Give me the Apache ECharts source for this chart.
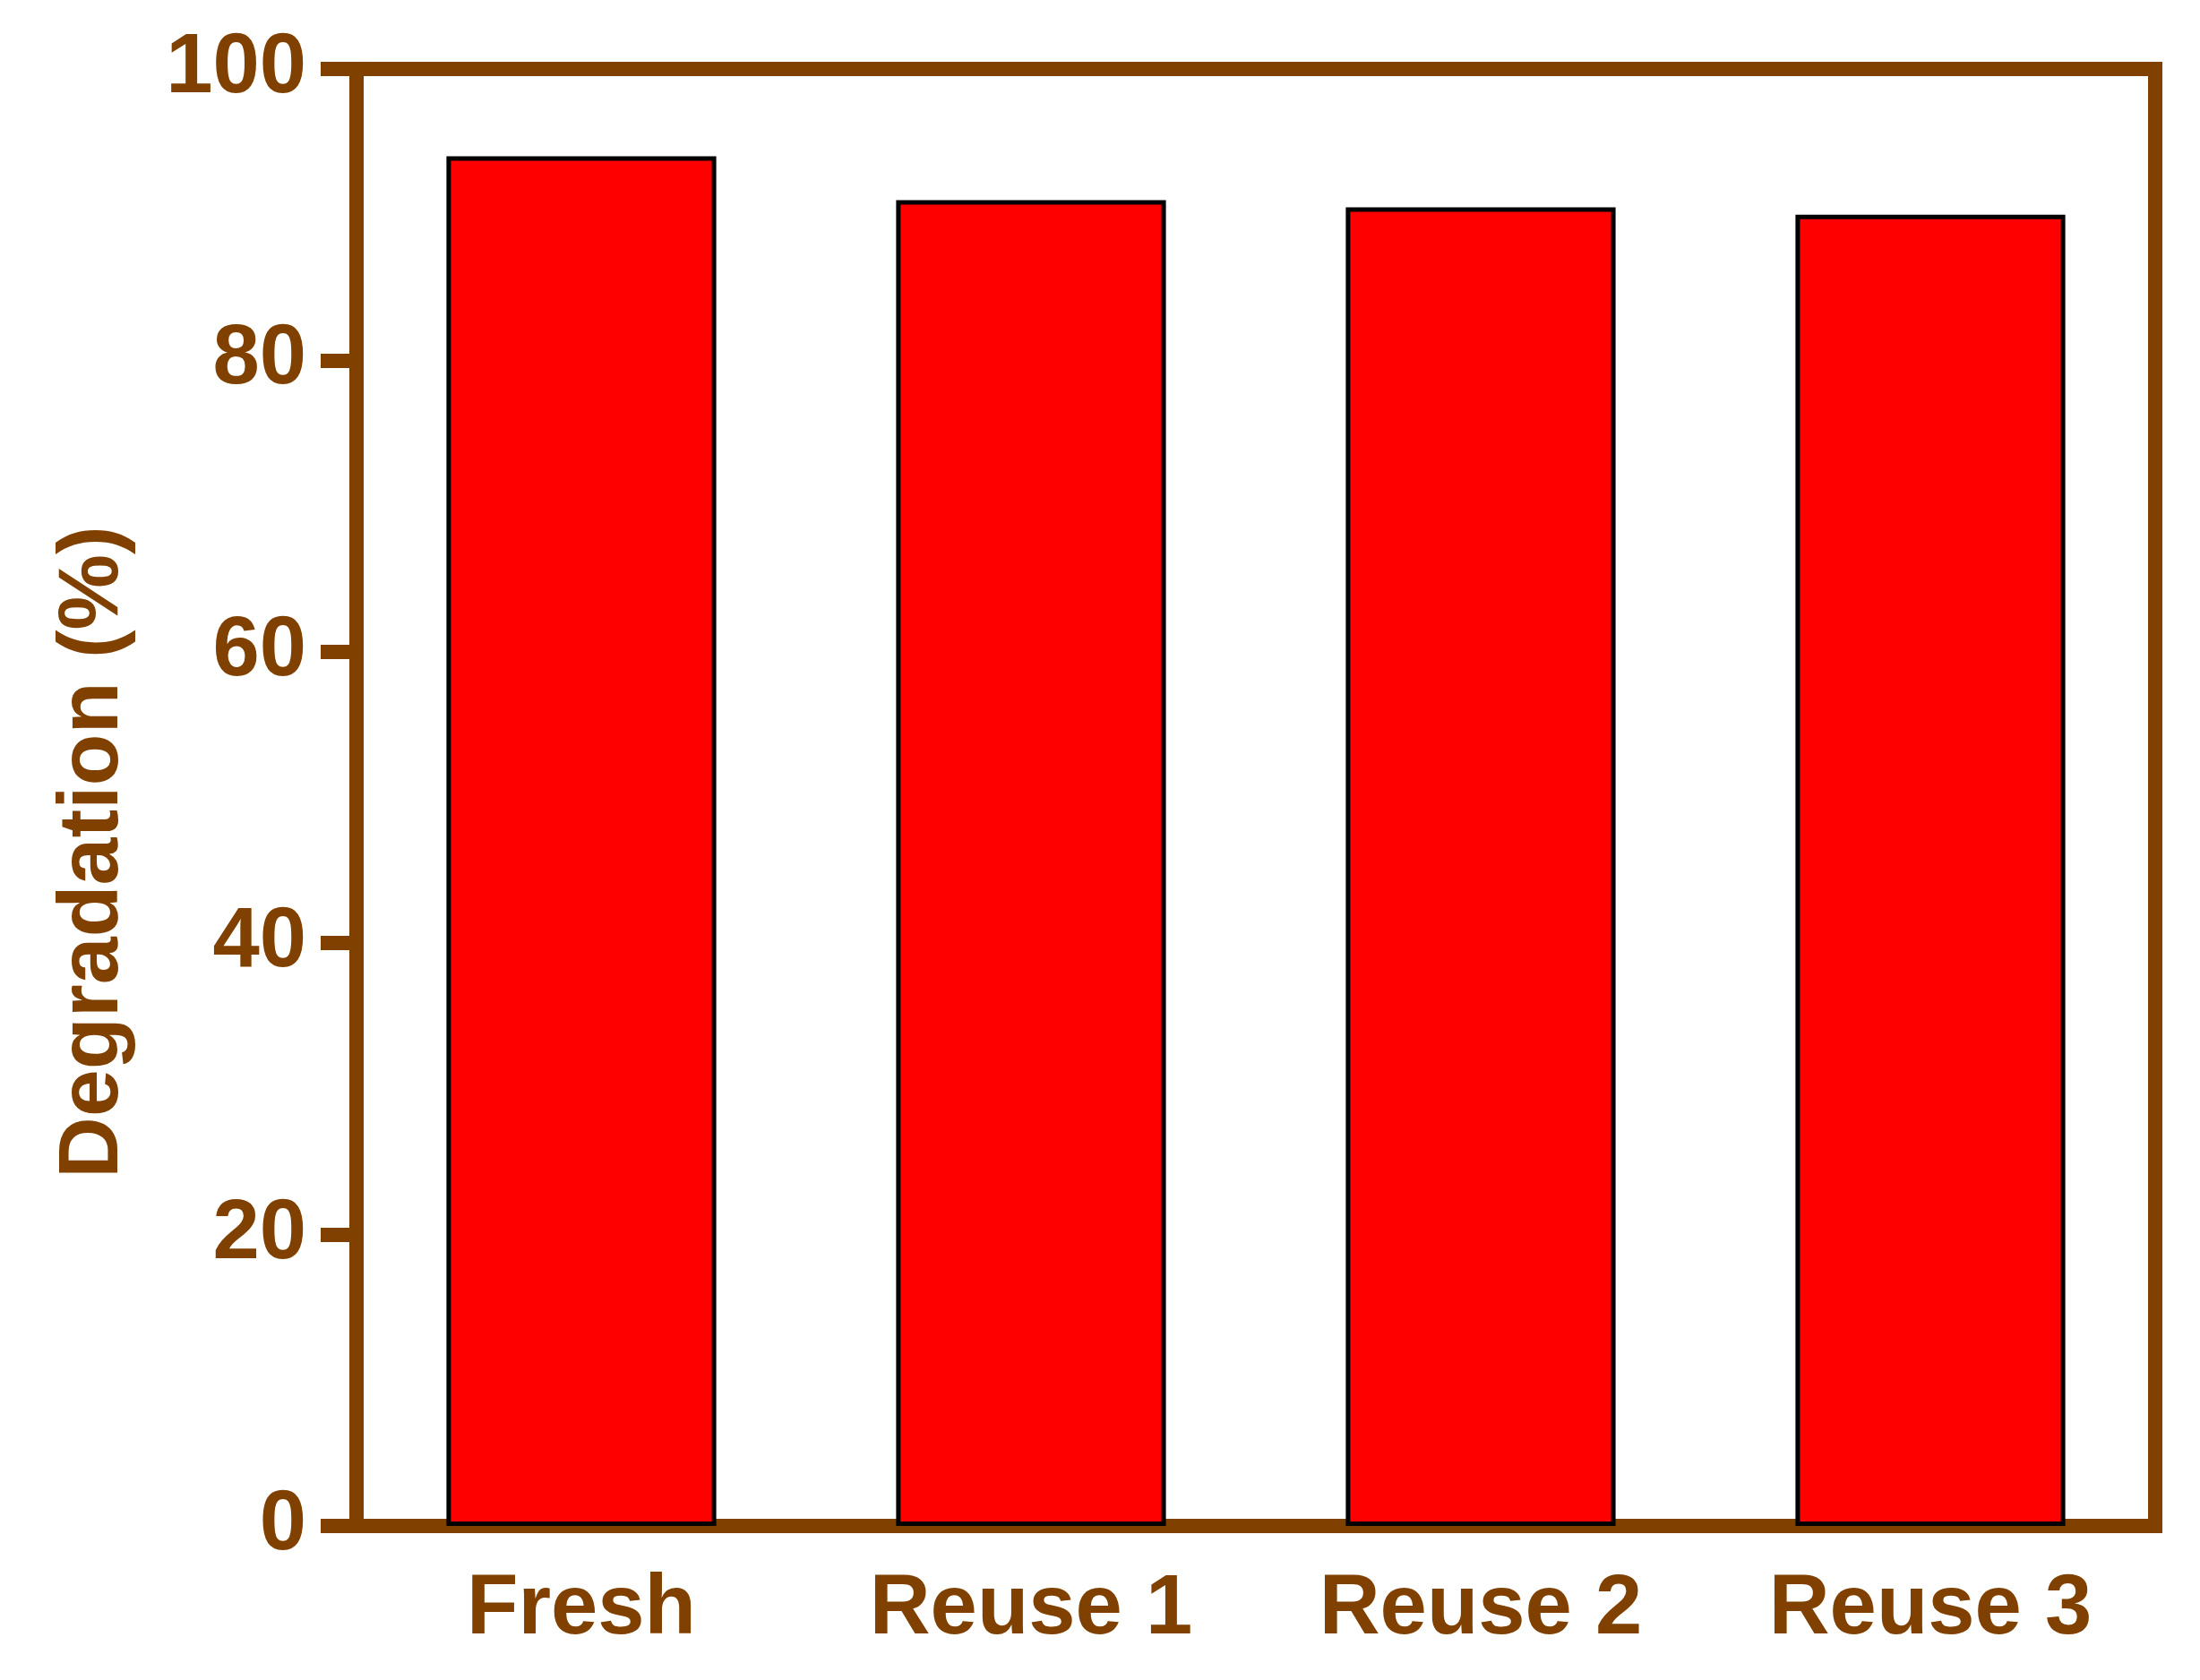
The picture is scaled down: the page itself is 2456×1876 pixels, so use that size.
<!DOCTYPE html>
<html>
<head>
<meta charset="utf-8">
<script src="https://cdn.jsdelivr.net/npm/echarts@6/dist/echarts.min.js"></script>
<style>
html,body{margin:0;padding:0;background:#fff;}
#chart{width:2456px;height:1876px;}
</style>
</head>
<body>
<div id="chart"></div>
<script>
var categories = ['Fresh', 'Reuse 1', 'Reuse 2', 'Reuse 3'];
var degradation = [94.0, 91.0, 90.5, 90.0];
var yTicks = [0, 20, 40, 60, 80, 100];
var yTitle = 'Degradation (%)';

var brown = '#804000';
var font = '"Liberation Sans", Arial, sans-serif';

var chart = echarts.init(document.getElementById('chart'), null, {renderer: 'canvas'});
chart.setOption({
  backgroundColor: '#ffffff',
  animation: false,
  grid: {
    left: 398, right: 50, top: 77, bottom: 172,
    show: true, borderColor: brown, borderWidth: 16, backgroundColor: 'transparent'
  },
  xAxis: {
    type: 'category',
    data: categories,
    boundaryGap: true,
    axisLine: {lineStyle: {color: brown, width: 16}},
    axisTick: {alignWithLabel: true, length: 39, lineStyle: {color: brown, width: 16}},
    axisLabel: {color: brown, fontFamily: font, fontWeight: 'bold', fontSize: 94, margin: 47},
    splitLine: {show: false}
  },
  yAxis: {
    type: 'value',
    min: yTicks[0], max: yTicks[yTicks.length - 1], interval: 20,
    name: yTitle,
    nameLocation: 'middle',
    nameRotate: 90,
    nameGap: 246,
    nameTextStyle: {color: brown, fontFamily: font, fontWeight: 'bold', fontSize: 95, padding: [0, 122, 0, 0]},
    axisLine: {show: true, lineStyle: {color: brown, width: 16}},
    axisTick: {show: true, inside: false, length: 40, lineStyle: {color: brown, width: 16}},
    axisLabel: {color: brown, fontFamily: font, fontWeight: 'bold', fontSize: 94, margin: 56, padding: [0, 0, 14, 0]},
    splitLine: {show: false}
  },
  series: [{
    type: 'bar',
    data: degradation,
    barWidth: '60%',
    itemStyle: {color: '#ff0000', borderColor: '#000000', borderWidth: 5}
  }]
});
</script>
</body>
</html>
